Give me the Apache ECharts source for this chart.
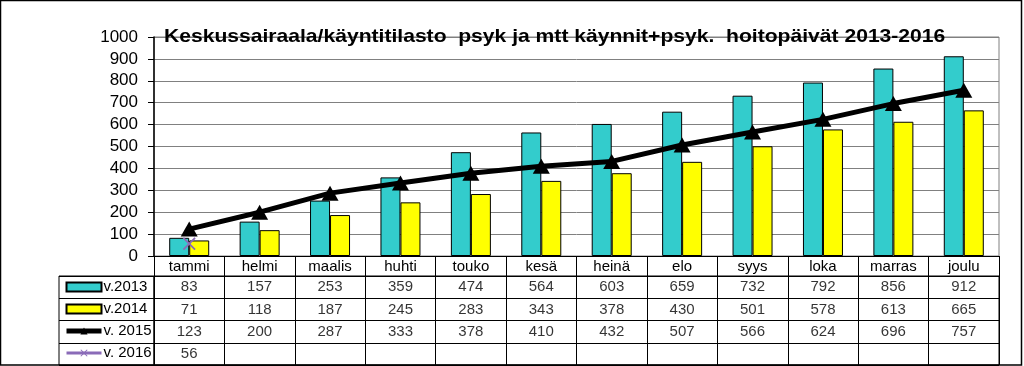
<!DOCTYPE html>
<html>
<head>
<meta charset="utf-8">
<script src="https://cdn.jsdelivr.net/npm/echarts@6/dist/echarts.min.js"></script>
<style>
html,body{margin:0;padding:0;background:#fff;}
#c{width:1024px;height:366px;}
</style>
</head>
<body>
<div id="c"></div>
<script>
const titleText = 'Keskussairaala/käyntitilasto  psyk ja mtt käynnit+psyk.  hoitopäivät 2013-2016';
const months = ['tammi','helmi','maalis','huhti','touko','kesä','heinä','elo','syys','loka','marras','joulu'];
const seriesNames = ['v.2013','v.2014','v. 2015','v. 2016'];
const v2013 = [83,157,253,359,474,564,603,659,732,792,856,912];
const v2014 = [71,118,187,245,283,343,378,430,501,578,613,665];
const v2015 = [123,200,287,333,378,410,432,507,566,624,696,757];
const v2016 = [56,null,null,null,null,null,null,null,null,null,null,null];
const yTicks = {min:0, max:1000, interval:100};

const FONT = 'Liberation Sans, Arial, sans-serif';
const cyan = '#33CCCC', yellow = '#FFFF00', purple = '#8A6BB8';
const xPath = 'path://M0,1L1,0L5,4L9,0L10,1L6,5L10,9L9,10L5,6L1,10L0,9L4,5Z';

const allRows = [v2013, v2014, v2015, v2016];
const tableData = [];
allRows.forEach((arr, r) => arr.forEach((v, i) => { if (v !== null) tableData.push([i, r, v]); }));

const chart = echarts.init(document.getElementById('c'));
chart.setOption({
  animation: false,
  backgroundColor: '#fff',
  textStyle: {fontFamily: FONT},
  legend: {
    orient: 'vertical', left: 64, top: 276, padding: 0, itemGap: 0,
    itemWidth: 35, itemHeight: 9,
    textStyle: {fontFamily: FONT, fontSize: 15, color: '#000', lineHeight: 22, padding: [0,0,0,-3]},
    data: [
      {name: seriesNames[0], icon: 'rect'},
      {name: seriesNames[1], icon: 'rect'},
      {name: seriesNames[2], lineStyle: {width: 5, color: '#000'}},
      {name: seriesNames[3], lineStyle: {width: 3, color: purple}}
    ]
  },
  grid: [
    {left: 154, right: 25, top: 37, bottom: 110, show: true, borderColor: '#808080', borderWidth: 1, containLabel: false},
    {left: 154, right: 25, top: 276, height: 89, show: true, borderColor: '#000', borderWidth: 1},
    {left: 59, width: 95, top: 276, height: 89, show: true, borderColor: '#000', borderWidth: 1}
  ],
  xAxis: [
    {type: 'category', gridIndex: 0, data: months, boundaryGap: true,
     axisLine: {lineStyle: {color: '#000', width: 1}},
     axisTick: {show: true, length: 20, lineStyle: {color: '#000'}},
     axisLabel: {margin: 3, fontSize: 15, color: '#000', fontFamily: FONT},
     splitLine: {show: false}},
    {type: 'category', gridIndex: 1, data: months, boundaryGap: true,
     axisLine: {show: false}, axisTick: {show: false}, axisLabel: {show: false},
     splitLine: {show: true, lineStyle: {color: '#000', width: 1}}},
    {type: 'category', gridIndex: 2, data: [''], axisLine: {show: false}, axisTick: {show: false}, axisLabel: {show: false}, splitLine: {show: false}}
  ],
  yAxis: [
    {type: 'value', gridIndex: 0, min: yTicks.min, max: yTicks.max, interval: yTicks.interval,
     axisLine: {show: true, lineStyle: {color: '#000', width: 1.5}},
     axisTick: {show: true, length: 6, lineStyle: {color: '#000'}},
     axisLabel: {margin: 16, fontSize: 17, color: '#000', fontFamily: FONT, formatter: v => String(v)},
     splitLine: {show: true, lineStyle: {color: '#808080', width: 1}}},
    {type: 'category', gridIndex: 1, data: seriesNames, inverse: true, boundaryGap: true,
     axisLine: {show: false}, axisTick: {show: false}, axisLabel: {show: false},
     splitLine: {show: true, lineStyle: {color: '#000', width: 1}}},
    {type: 'category', gridIndex: 2, data: seriesNames, inverse: true, boundaryGap: true,
     axisLine: {show: false}, axisTick: {show: false}, axisLabel: {show: false},
     splitLine: {show: true, lineStyle: {color: '#000', width: 1}}}
  ],
  series: [
    {name: seriesNames[0], type: 'bar', xAxisIndex: 0, yAxisIndex: 0, data: v2013, barWidth: 20, barGap: '0%',
     itemStyle: {color: cyan, borderColor: '#000', borderWidth: 1}},
    {name: seriesNames[1], type: 'bar', xAxisIndex: 0, yAxisIndex: 0, data: v2014, barWidth: 20, barGap: '0%',
     itemStyle: {color: yellow, borderColor: '#000', borderWidth: 1}},
    {name: seriesNames[2], type: 'line', xAxisIndex: 0, yAxisIndex: 0, data: v2015,
     lineStyle: {color: '#000', width: 5}, itemStyle: {color: '#000'},
     symbol: 'triangle', symbolSize: [17, 15], z: 5},
    {name: seriesNames[3], type: 'line', xAxisIndex: 0, yAxisIndex: 0, data: v2016,
     lineStyle: {color: purple, width: 3}, itemStyle: {color: purple},
     symbol: xPath, symbolSize: 13, z: 6},
    {name: 'table', type: 'scatter', xAxisIndex: 1, yAxisIndex: 1, data: tableData,
     symbolSize: 1, itemStyle: {color: 'rgba(0,0,0,0)'}, silent: true,
     label: {show: true, position: 'inside', color: '#000', fontSize: 15, fontFamily: FONT,
             formatter: p => String(p.value[2])}}
  ],
  graphic: [
    {type: 'text', x: 164, y: 27, scaleX: 1.11, z: 50,
     style: {text: titleText, fill: '#000', font: 'bold 19px ' + FONT, verticalAlign: 'top'}},
    {type: 'rect', shape: {x: 0.5, y: 0.5, width: 1021, height: 364.5},
     style: {fill: 'none', stroke: '#000', lineWidth: 1.5}, z: 100}
  ]
});
</script>
</body>
</html>
